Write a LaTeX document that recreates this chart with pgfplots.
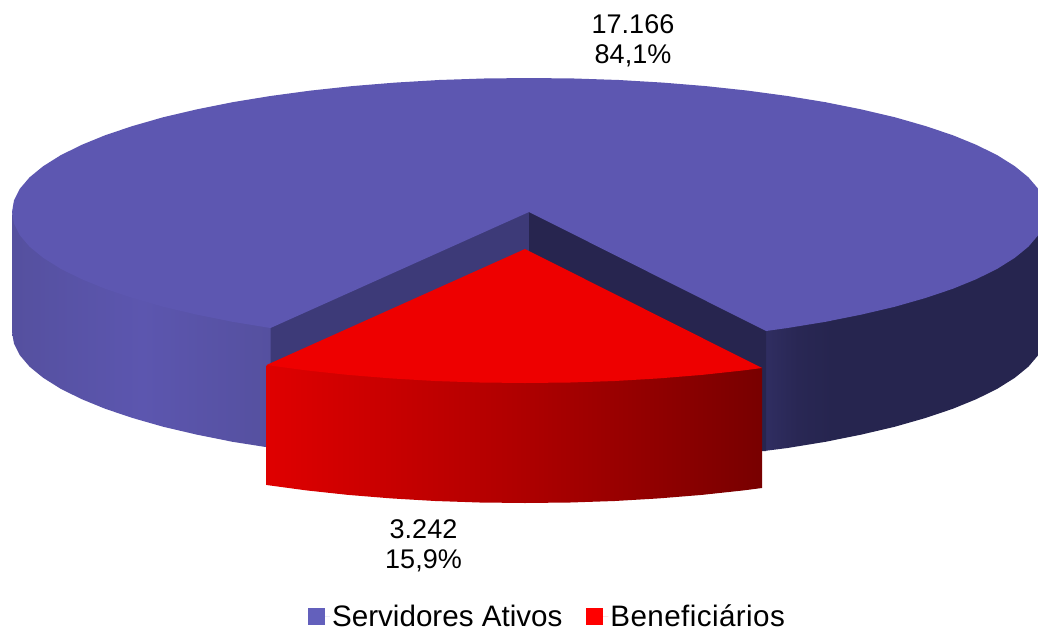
\documentclass[border=0pt]{standalone}
\usepackage{pgfplots}
\pgfplotsset{compat=1.18}
\usepackage{fontspec}
\setmainfont{Liberation Sans}
\definecolor{bluetop}{HTML}{5D57B1}
\definecolor{blueedge}{HTML}{55509F}
\definecolor{bluemid}{HTML}{5C56AF}
\definecolor{wallleft}{HTML}{3D3A78}
\definecolor{wallright}{HTML}{27254F}
\definecolor{rightA}{HTML}{302E62}
\definecolor{rightB}{HTML}{292754}
\definecolor{rightC}{HTML}{26254F}
\definecolor{redtop}{HTML}{EE0000}
\definecolor{redleft}{HTML}{DF0000}
\definecolor{redmid}{HTML}{B00000}
\definecolor{redright}{HTML}{780000}
\definecolor{legblue}{HTML}{6360BC}
\pgfdeclarehorizontalshading{blueleftside}{100bp}{color(0bp)=(blueedge); color(25bp)=(blueedge); color(50bp)=(bluemid); color(75bp)=(blueedge); color(100bp)=(blueedge)}
\pgfdeclarehorizontalshading{bluerightside}{100bp}{color(0bp)=(rightA); color(25bp)=(rightA); color(31bp)=(rightB); color(37bp)=(rightC); color(100bp)=(rightC)}
\pgfdeclarehorizontalshading{redside}{100bp}{color(0bp)=(redleft); color(25bp)=(redleft); color(50bp)=(redmid); color(75bp)=(redright); color(100bp)=(redright)}
\begin{document}
\begin{tikzpicture}
\path[use as bounding box] (0,0) rectangle (1038pt,629pt);
\begin{axis}[
  at={(0,0)}, anchor=south west,
  scale only axis, width=1038pt, height=629pt,
  xmin=0, xmax=1038, ymin=0, ymax=629, y dir=reverse,
  hide axis,
  legend columns=2,
  legend cell align=left,
  legend image code/.code={\fill[#1] (0pt,-8.5pt) rectangle (17pt,8.5pt); \path (0pt,0pt) -- (22pt,0pt);},
  legend style={draw=none, fill=none, at={(axis cs:547.5,630)}, anchor=south,
    font=\fontsize{29.6}{32}\selectfont, inner sep=0pt,
    /tikz/every even column/.append style={column sep=22pt}},
]
% blue: left side
\addplot[forget plot, draw=none, shade, shading=blueleftside] coordinates {
 (12,212)(14,220)(19.9,231)(29.6,243)(43.2,254)(60.4,265)(81.3,275)(105.5,285)(133,294)(163.4,303)(196.7,311)(232.5,318)(272,324)
 (272,448)(232.5,441.8)(196.7,434.6)(163.4,426.8)(133,418.1)(105.5,408.9)(81.3,399)(60.4,388.6)(43.2,377.8)(29.6,366.7)(19.9,355.3)(14,343.7)(12,332)
};
% blue: right side
\addplot[forget plot, draw=none, shade, shading=bluerightside] coordinates {
 (764,327)(787.5,324)(825.5,318)(861.3,311)(894.6,303)(925,294)(952.5,285)(976.7,275)(997.6,265)(1014.8,254)(1028.4,243)(1038.1,231)(1044,220)(1046,212)
 (1046,332)(1044,343.7)(1038.1,355.3)(1028.4,366.7)(1014.8,377.8)(997.6,388.6)(976.7,399)(952.5,408.9)(925,418.1)(894.6,426.8)(861.3,434.6)(825.5,441.8)(787.5,448)(764,451)
};
% blue: inner walls
\addplot[forget plot, draw=none, fill=wallleft] coordinates {(531,210)(270.5,325)(270.5,368)(531,252)};
\addplot[forget plot, draw=none, fill=wallright] coordinates {(529,210)(766,328)(766,451)(758,451)(529,252)};
% blue: top
\addplot[forget plot, draw=none, fill=bluetop] coordinates {
 (529,212)(766,331)(787.5,328)(825.5,321.8)(861.3,314.6)(894.6,306.8)(925,298.1)(952.5,288.9)(976.7,279)(997.6,268.6)(1014.8,257.8)(1028.4,246.7)(1038.1,235.3)(1044,223.7)(1046,212)
 (1044,200.3)(1038.1,188.7)(1028.4,177.3)(1014.8,166.2)(997.6,155.4)(976.7,145)(952.5,135.1)(925,125.9)(894.6,117.2)(861.3,109.4)(825.5,102.2)(787.5,96)(747.5,90.6)(705.8,86.1)(662.8,82.6)(618.8,80)(574.1,78.5)(529,78)
 (483.9,78.5)(439.2,80)(395.2,82.6)(352.2,86.1)(310.5,90.6)(270.5,96)(232.5,102.2)(196.7,109.4)(163.4,117.2)(133,125.9)(105.5,135.1)(81.3,145)(60.4,155.4)(43.2,166.2)(29.6,177.3)(19.9,188.7)(14,200.3)(12,212)
 (14,223.7)(19.9,235.3)(29.6,246.7)(43.2,257.8)(60.4,268.6)(81.3,279)(105.5,288.9)(133,298.1)(163.4,306.8)(196.7,314.6)(232.5,321.8)(270.5,328)
};
% red: side
\addplot[forget plot, draw=none, shade, shading=redside] coordinates {
 (266.5,365)(306.5,367)(348.2,371)(391.2,375)(435.2,378)(479.9,379)(525,380)(570.1,379)(614.8,378)(658.8,375)(701.8,371)(743.5,367)(762,368)
 (762,488)(743.5,490.4)(701.8,494.9)(658.8,498.4)(614.8,501)(570.1,502.5)(525,503)(479.9,502.5)(435.2,501)(391.2,498.4)(348.2,494.9)(306.5,490.4)(266.5,485)
};
% red: top
\addplot[forget plot, draw=none, fill=redtop] coordinates {
 (525,249)(266.5,365)(306.5,370.4)(348.2,374.9)(391.2,378.4)(435.2,381)(479.9,382.5)(525,383)(570.1,382.5)(614.8,381)(658.8,378.4)(701.8,374.9)(743.5,370.4)(762,368)
};
\addlegendimage{fill=legblue, draw=none}
\addlegendentry{Servidores Ativos}
\addlegendimage{fill=red, draw=none}
\addlegendentry{{\addfontfeature{LetterSpace=1.4}Beneficiários}}
\node[align=center, font=\fontsize{27}{30}\selectfont, text=black, inner sep=0pt] at (axis cs:633,41) {17.166\\84,1\%};
\node[align=center, font=\fontsize{27}{30}\selectfont, text=black, inner sep=0pt] at (axis cs:423.5,545.5) {3.242\\15,9\%};
\end{axis}
\end{tikzpicture}
\end{document}
